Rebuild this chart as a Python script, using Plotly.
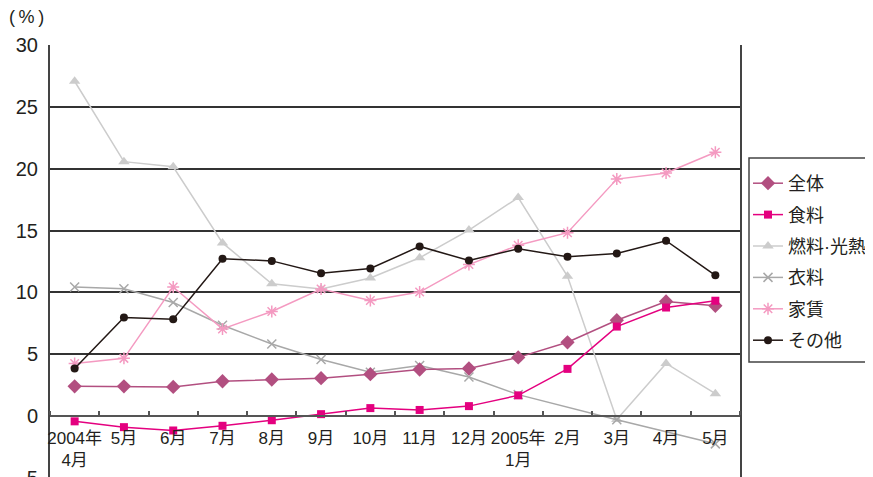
import plotly.graph_objects as go

months = ["2004年<br>4月", "5月", "6月", "7月", "8月", "9月", "10月", "11月",
          "12月", "2005年<br>1月", "2月", "3月", "4月", "5月"]
x_idx = list(range(len(months)))

zentai = [2.41, 2.41, 2.36, 2.82, 2.96, 3.07, 3.39, 3.77, 3.85, 4.75, 5.97, 7.75, 9.27, 8.92]
shokuryo = [-0.42, -0.89, -1.16, -0.78, -0.33, 0.16, 0.65, 0.5, 0.81, 1.68, 3.82, 7.24, 8.78, 9.33]
nenryo = [27.07, 20.57, 20.16, 14.0, 10.7, 10.28, 11.17, 12.8, 15.04, 17.67, 11.3, -0.27, 4.26, 1.82]
iryo = [10.44, 10.3, 9.19, 7.35, 5.83, 4.58, 3.55, 4.1, 3.17, 1.74, None, -0.29, None, -2.24]
yachin = [4.26, 4.67, 10.44, 7.05, 8.46, 10.28, 9.35, 10.03, 12.25, 13.82, 14.83, 19.16, 19.65, 21.33]
sonota = [3.85, 7.97, 7.84, 12.72, 12.55, 11.55, 11.93, 13.72, 12.58, 13.53, 12.88, 13.15, 14.18, 11.38]

series_names = ["全体", "食料", "燃料·光熱", "衣料", "家賃", "その他"]
y_ticks = [-5, 0, 5, 10, 15, 20, 25, 30]

FONT = "Liberation Sans, Noto Sans CJK JP, sans-serif"
TXT = "#231f20"

styles = [
    dict(color="#b24f80", symbol="diamond", size=11, lw=1.5),
    dict(color="#e4007f", symbol="square", size=8, lw=1.5),
    dict(color="#cccccc", symbol="triangle-up", size=10, lw=1.5),
    dict(color="#a8a8a8", symbol="x-thin-open", size=9, lw=1.5),
    dict(color="#f49ac1", symbol="asterisk-open", size=10, lw=1.5),
    dict(color="#231815", symbol="circle", size=8, lw=1.5),
]
data = [zentai, shokuryo, nenryo, iryo, yachin, sonota]

fig = go.Figure()
order = [2, 3, 4, 5, 0, 1]
traces = {}
for i in range(6):
    s = styles[i]
    mk = dict(symbol=s["symbol"], size=s["size"], color=s["color"])
    if "open" in s["symbol"]:
        mk["line"] = dict(color=s["color"], width=1.5)
    traces[i] = go.Scatter(
        x=x_idx, y=data[i], name=series_names[i], mode="lines+markers",
        line=dict(color=s["color"], width=s["lw"]), marker=mk,
        connectgaps=True, legendgroup=str(i), legendrank=i + 1,
    )
for i in order:
    fig.add_trace(traces[i])

# the page body adds an 8px offset; margins compensate for it
OFF = 8
W, H = 881, 485
ml, mt = 50 - OFF, 45 - OFF
pw, ph = 690, 433
mr = W - ml - pw
mb = H - mt - ph


def px_x(sx):
    return (sx - 50) / pw


def px_y(sy):
    return (45 + ph - sy) / ph


fig.update_layout(
    width=W, height=H,
    margin=dict(l=ml, r=mr, t=mt, b=mb, pad=0, autoexpand=False),
    paper_bgcolor="white", plot_bgcolor="white",
    font=dict(family=FONT, color=TXT, size=17),
    xaxis=dict(
        range=[-0.5, 13.5], tickmode="array", tickvals=x_idx, ticktext=months,
        anchor="free", position=5 / 35, showline=True, linecolor="#555555",
        linewidth=2, showgrid=False, zeroline=False, ticks="",
        ticklabelstandoff=6, automargin=False,
        tickfont=dict(size=17, family=FONT, color=TXT),
        minor=dict(ticks="inside", tick0=-0.5, dtick=1, ticklen=4,
                   tickcolor="#555555", tickwidth=1.5, showgrid=False),
    ),
    yaxis=dict(
        range=[-5, 30], tickmode="array", tickvals=y_ticks,
        showline=True, mirror=True, linecolor="#444444", linewidth=2,
        showgrid=True, gridcolor="#333333", gridwidth=1.5, zeroline=False,
        ticks="", ticklabelstandoff=6, automargin=False,
        tickfont=dict(size=20, family=FONT, color=TXT),
    ),
    legend=dict(
        x=px_x(748), y=px_y(165), xanchor="left", yanchor="top",
        borderwidth=0, bgcolor="rgba(0,0,0,0)",
        font=dict(size=18, family=FONT, color=TXT),
        itemwidth=30, tracegroupgap=5, traceorder="grouped",
    ),
    showlegend=True,
    shapes=[dict(type="rect", xref="paper", yref="paper",
                 x0=px_x(749), x1=px_x(900), y0=px_y(362), y1=px_y(158),
                 line=dict(color="#444444", width=1.5), fillcolor="white",
                 layer="below")],
)

fig.add_annotation(
    text="(\u2009%\u2009)", xref="paper", yref="paper",
    x=px_x(26), y=px_y(17), xanchor="center", yanchor="middle",
    showarrow=False, font=dict(size=18, family=FONT, color=TXT),
)

fig.write_html("out.html")
